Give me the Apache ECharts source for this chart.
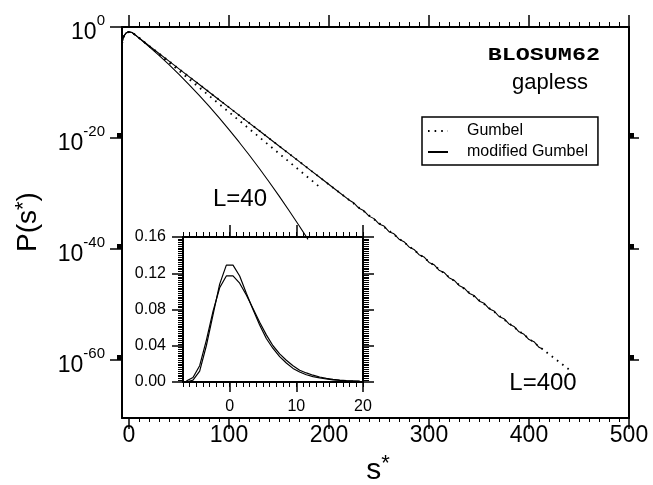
<!DOCTYPE html>
<html><head><meta charset="utf-8">
<script src="https://cdn.jsdelivr.net/npm/echarts@6/dist/echarts.min.js"></script>
<style>html,body{margin:0;padding:0;background:#fff}#c{width:653px;height:485px}</style>
</head><body><div id="c"></div>
<script>
// ---------- main panel: x = s*, y = log10 P(s*) ----------
const sL400 = [-7,-6,-5,-4,-3,-2,-1,0,1,2,3,5,7,10,15,20,30,40,50,60,70,80,90,100,110,120,130,140,150,160,170,180,190,200,210,220,
  225,230,235,240,245,250,255,260,265,270,275,280,285,290,295,300,305,310,315,320,325,330,335,340,345,350,355,360,365,370,375,380,385,390,395,400,405,410,414];
const pL400 = [-3.0,-2.1,-1.6,-1.3,-1.1,-0.98,-0.92,-0.88,-0.88,-0.92,-1.0,-1.25,-1.52,-1.95,-2.66,-3.38,-4.77,-6.16,-7.55,-8.94,-10.33,-11.72,-13.11,-14.5,-15.89,-17.28,-18.67,-20.06,-21.45,-22.84,-24.23,-25.62,-27.01,-28.4,-29.79,-31.18,
  -31.75,-32.7,-33.15,-34.1,-34.55,-35.5,-35.9,-36.9,-37.3,-38.25,-38.7,-39.65,-40.1,-41.05,-41.45,-42.45,-42.85,-43.85,-44.25,-45.2,-45.65,-46.6,-47.05,-48.0,-48.4,-49.4,-49.8,-50.8,-51.2,-52.2,-52.6,-53.55,-54.0,-54.95,-55.4,-56.35,-56.75,-57.75,-58.1];

const sL400Gumbel = [-7,-5,-3,-1,0,1,3,5,10,20,50,100,150,200,250,300,350,400,441];
const pL400Gumbel = [-3.0,-1.6,-1.1,-0.92,-0.88,-0.88,-1.0,-1.25,-1.95,-3.38,-7.55,-14.5,-21.45,-28.4,-35.35,-42.3,-49.25,-56.2,-61.9];

const sL40 = [-7,-6,-5,-4,-3,-2,-1,0,1,2,3,5,7,10,15,20,30,40,50,60,70,80,90,100,110,120,130,140,150,160,170,179];
const pL40 = [-3.0,-2.1,-1.6,-1.3,-1.1,-0.98,-0.92,-0.88,-0.88,-0.92,-1.0,-1.26,-1.55,-2.0,-2.75,-3.54,-5.13,-6.8,-8.55,-10.38,-12.29,-14.28,-16.35,-18.5,-20.73,-23.04,-25.43,-27.9,-30.45,-33.08,-35.79,-38.3];

const sL40Gumbel = [-7,-5,-3,-1,0,1,3,5,10,20,50,100,150,193];
const pL40Gumbel = [-3.0,-1.6,-1.1,-0.92,-0.88,-0.88,-1.0,-1.26,-1.97,-3.43,-7.9,-15.35,-22.8,-29.2];

const xMajorTicks = [0,100,200,300,400,500];
const yTickExponents = [0,-20,-40,-60];

// ---------- inset: linear P(s*) ----------
const insetS = [-6.5,-5.5,-4.5,-3.5,-2.5,-1.5,-0.5,0.5,1.5,2.5,3.5,4.5,5.5,6.5,7.5,8.5,9.5,10.5,11.5,12.5,13.5,14.5,15.5,16.5,17.5,18.5,19.5];
const insetData = [0.0,0.002,0.012,0.040,0.074,0.108,0.129,0.129,0.117,0.098,0.080,0.063,0.048,0.037,0.028,0.021,0.015,0.011,0.008,0.006,0.0045,0.0033,0.0024,0.0017,0.0012,0.0009,0.0006];
const insetModel = [0.001,0.005,0.018,0.046,0.078,0.104,0.117,0.117,0.109,0.096,0.081,0.066,0.052,0.040,0.031,0.024,0.018,0.013,0.010,0.0075,0.0055,0.004,0.003,0.0022,0.0016,0.0012,0.0009];
const insetXLabels = [0,10,20];

const F = '"Liberation Sans", Arial, Helvetica, sans-serif';
const zip = (a, b) => a.map((v, i) => [v, b[i]]);
const xMinorTicks = [];
for (let v = 10; v < 500; v += 10) if (v % 100 !== 0) xMinorTicks.push(v);

const blk = '#000';
const mainX = {min: -7, max: 500, gridIndex: 0, type: 'value', splitLine: {show: false}};
const mainY = {min: -70.5, max: 0, gridIndex: 0, type: 'value', splitLine: {show: false}};
const insX = {min: -7, max: 20, gridIndex: 1, type: 'value', splitLine: {show: false}};
const insY = {min: 0, max: 0.16, gridIndex: 1, type: 'value', splitLine: {show: false}};
const line2 = {show: true, onZero: false, lineStyle: {color: blk, width: 2}};
const noLine = {show: false, onZero: false};

const option = {
  backgroundColor: '#fff',
  animation: false,
  color: [blk],
  grid: [
    {left: 122, top: 27, right: 24, bottom: 67},
    {left: 183, top: 237, width: 180, height: 145, show: true, backgroundColor: '#fff', borderWidth: 0}
  ],
  xAxis: [
    Object.assign({}, mainX, {position: 'bottom', axisLine: line2,
      axisTick: {show: true, length: 11, customValues: xMajorTicks, lineStyle: {color: blk, width: 1.5}},
      axisLabel: {customValues: xMajorTicks, fontSize: 23, fontFamily: F, color: blk, margin: 6}}),
    Object.assign({}, mainX, {position: 'bottom', axisLine: noLine,
      axisTick: {show: true, length: 4, customValues: xMinorTicks, lineStyle: {color: blk, width: 1}},
      axisLabel: {show: false}}),
    Object.assign({}, mainX, {position: 'top', axisLine: line2,
      axisTick: {show: true, length: 12, customValues: xMajorTicks, lineStyle: {color: blk, width: 1.5}},
      axisLabel: {show: false}}),
    Object.assign({}, mainX, {position: 'top', axisLine: noLine,
      axisTick: {show: true, length: 5, customValues: xMinorTicks, lineStyle: {color: blk, width: 1}},
      axisLabel: {show: false}}),
    // inset
    Object.assign({}, insX, {position: 'bottom', interval: 1, axisLine: line2,
      axisTick: {show: true, length: 5, lineStyle: {color: blk, width: 1}}, axisLabel: {show: false}}),
    Object.assign({}, insX, {position: 'bottom', axisLine: noLine,
      axisTick: {show: true, length: 10, customValues: insetXLabels, lineStyle: {color: blk, width: 1.5}},
      axisLabel: {customValues: insetXLabels, fontSize: 16, fontFamily: F, color: blk, margin: 17}}),
    Object.assign({}, insX, {position: 'top', interval: 1, axisLine: line2,
      axisTick: {show: true, length: 5, lineStyle: {color: blk, width: 1}}, axisLabel: {show: false}}),
    Object.assign({}, insX, {position: 'top', axisLine: noLine,
      axisTick: {show: true, length: 12, customValues: insetXLabels, lineStyle: {color: blk, width: 1.5}},
      axisLabel: {show: false}})
  ],
  yAxis: [
    Object.assign({}, mainY, {position: 'left', axisLine: line2,
      axisTick: {show: true, length: 12, customValues: yTickExponents, lineStyle: {color: blk, width: 1.5}},
      axisLabel: {customValues: yTickExponents, margin: 17, color: blk,
        formatter: v => '{b|10}{s|' + v + '}',
        rich: {b: {fontSize: 23, fontFamily: F, color: blk, padding: [12, 0, 0, 0]},
               s: {fontSize: 15, fontFamily: F, color: blk, padding: [0, 0, 12, 0]}}}}),
    Object.assign({}, mainY, {position: 'left', axisLine: noLine,
      axisTick: {show: true, length: 5, customValues: [-19.5, -39.5, -59.5], lineStyle: {color: blk, width: 5}},
      axisLabel: {show: false}}),
    Object.assign({}, mainY, {position: 'right', axisLine: line2,
      axisTick: {show: true, length: 10, customValues: [-20, -40, -60], lineStyle: {color: blk, width: 1.5}},
      axisLabel: {show: false}}),
    Object.assign({}, mainY, {position: 'right', axisLine: noLine,
      axisTick: {show: true, length: 5, customValues: [-19.5, -39.5, -59.5], lineStyle: {color: blk, width: 5}},
      axisLabel: {show: false}}),
    // inset
    Object.assign({}, insY, {position: 'left', interval: 0.04, axisLine: line2,
      axisTick: {show: true, length: 11, lineStyle: {color: blk, width: 1.5}},
      minorTick: {show: true, splitNumber: 20, length: 5, lineStyle: {color: blk, width: 1}},
      axisLabel: {fontSize: 16, fontFamily: F, color: blk, margin: 17, formatter: v => v.toFixed(2)}}),
    Object.assign({}, insY, {position: 'right', interval: 0.04, axisLine: line2,
      axisTick: {show: true, length: 11, lineStyle: {color: blk, width: 1.5}},
      minorTick: {show: true, splitNumber: 20, length: 6, lineStyle: {color: blk, width: 1}},
      axisLabel: {show: false}})
  ],
  legend: {
    data: ['Gumbel', 'modified Gumbel'], orient: 'vertical', left: 422, top: 117,
    padding: [6, 10, 5, 5], itemGap: 5, itemWidth: 20, itemHeight: 14,
    borderColor: blk, borderWidth: 1.5, backgroundColor: '#fff',
    itemStyle: {opacity: 0},
    textStyle: {fontSize: 16, fontFamily: F, color: blk, padding: [0, 0, 0, 14]}
  },
  graphic: [
    {type: 'text', x: 600, y: 55, scaleX: 1.3, style: {text: 'BLOSUM62', font: 'bold 18px "Liberation Mono", "Courier New", monospace', fill: blk, textAlign: 'right', textVerticalAlign: 'middle'}},
    {type: 'text', x: 550, y: 83, style: {text: 'gapless', font: '22px ' + F, fill: blk, textAlign: 'center', textVerticalAlign: 'middle'}},
    {type: 'text', x: 240, y: 199, style: {text: 'L=40', font: '24px ' + F, fill: blk, textAlign: 'center', textVerticalAlign: 'middle'}},
    {type: 'text', x: 543, y: 383, style: {text: 'L=400', font: '24px ' + F, fill: blk, textAlign: 'center', textVerticalAlign: 'middle'}},
    {type: 'text', x: 378, y: 468, style: {text: '{a|s}{b|*}', textAlign: 'center', textVerticalAlign: 'middle',
      rich: {a: {fontSize: 30, fontFamily: F, fill: blk, padding: [6, 0, 0, 0]}, b: {fontSize: 22, fontFamily: F, fill: blk, padding: [0, 0, 8, 0]}}}},
    {type: 'text', x: 28, y: 222, rotation: Math.PI / 2, style: {text: '{a|P(s}{b|*}{a|)}', textAlign: 'center', textVerticalAlign: 'middle',
      rich: {a: {fontSize: 28, fontFamily: F, fill: blk}, b: {fontSize: 22, fontFamily: F, fill: blk, padding: [0, 0, 8, 0]}}}}
  ],
  series: [
    {name: 'Gumbel', type: 'line', xAxisIndex: 0, yAxisIndex: 0, data: zip(sL400Gumbel, pL400Gumbel), showSymbol: false, symbol: 'none', z: 3,
      itemStyle: {color: blk}, lineStyle: {color: blk, width: 1.8, type: [1.6, 5], cap: 'butt'}},
    {name: 'Gumbel', type: 'line', xAxisIndex: 0, yAxisIndex: 0, data: zip(sL40Gumbel, pL40Gumbel), showSymbol: false, symbol: 'none', z: 3,
      itemStyle: {color: blk}, lineStyle: {color: blk, width: 1.8, type: [1.6, 5], cap: 'butt'}},
    {name: 'modified Gumbel', type: 'line', xAxisIndex: 0, yAxisIndex: 0, data: zip(sL400, pL400), showSymbol: false, symbol: 'none', z: 4,
      itemStyle: {color: blk}, lineStyle: {color: blk, width: 1.1}},
    {name: 'modified Gumbel', type: 'line', xAxisIndex: 0, yAxisIndex: 0, data: zip(sL40, pL40), showSymbol: false, symbol: 'none', z: 4,
      itemStyle: {color: blk}, lineStyle: {color: blk, width: 1.1}},
    {name: 'inset data', type: 'line', xAxisIndex: 4, yAxisIndex: 4, data: zip(insetS, insetData), showSymbol: false, symbol: 'none', z: 5,
      itemStyle: {color: blk}, lineStyle: {color: blk, width: 1.2}},
    {name: 'inset model', type: 'line', xAxisIndex: 4, yAxisIndex: 4, data: zip(insetS, insetModel), showSymbol: false, symbol: 'none', z: 5,
      itemStyle: {color: blk}, lineStyle: {color: blk, width: 1.2}}
  ]
};
const chart = echarts.init(document.getElementById('c'), null, {renderer: 'canvas'});
chart.setOption(option);
</script></body></html>
